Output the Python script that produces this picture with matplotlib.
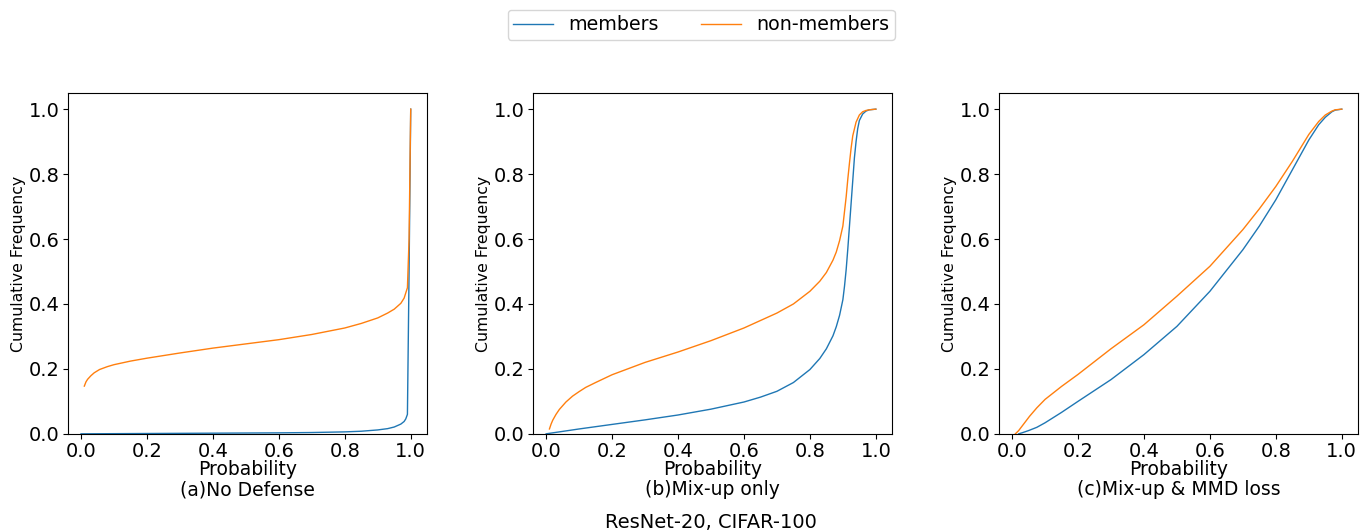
import matplotlib.pyplot as plt

# (a) No Defense
a_mem_x = [0.0, 0.2, 0.4, 0.6, 0.7, 0.8, 0.85, 0.9, 0.93, 0.95, 0.97, 0.98, 0.985, 0.99, 0.995, 1.0]
a_mem_y = [0.0, 0.001, 0.002, 0.003, 0.004, 0.006, 0.008, 0.012, 0.016, 0.021, 0.03, 0.038, 0.046, 0.06, 0.5, 1.0]
a_non_x = [0.01, 0.015, 0.02, 0.03, 0.04, 0.056, 0.08, 0.1, 0.15, 0.2, 0.3, 0.4, 0.5, 0.6, 0.7, 0.8,
           0.85, 0.9, 0.93, 0.95, 0.97, 0.98, 0.99, 0.995, 1.0]
a_non_y = [0.147, 0.16, 0.168, 0.179, 0.188, 0.198, 0.207, 0.213, 0.224, 0.233, 0.249, 0.264, 0.277,
           0.29, 0.306, 0.326, 0.34, 0.357, 0.372, 0.384, 0.402, 0.418, 0.45, 0.6, 1.0]

# (b) Mix-up only
b_mem_x = [0.0, 0.1, 0.2, 0.3, 0.4, 0.5, 0.6, 0.65, 0.7, 0.75, 0.8, 0.83, 0.85, 0.87, 0.88, 0.89, 0.9,
           0.905, 0.91, 0.915, 0.92, 0.925, 0.93, 0.935, 0.94, 0.945, 0.95, 0.96, 0.97, 0.98, 1.0]
b_mem_y = [0.0, 0.015, 0.029, 0.043, 0.058, 0.076, 0.098, 0.113, 0.131, 0.158, 0.198, 0.232, 0.262,
           0.302, 0.33, 0.365, 0.413, 0.455, 0.506, 0.57, 0.64, 0.71, 0.78, 0.85, 0.9, 0.94, 0.965,
           0.985, 0.994, 0.998, 1.0]
b_non_x = [0.01, 0.015, 0.02, 0.03, 0.04, 0.06, 0.08, 0.1, 0.12, 0.15, 0.2, 0.3, 0.4, 0.5, 0.6, 0.7,
           0.75, 0.8, 0.83, 0.85, 0.87, 0.88, 0.89, 0.9, 0.905, 0.91, 0.915, 0.92, 0.925, 0.93, 0.94,
           0.95, 0.96, 0.97, 0.98, 1.0]
b_non_y = [0.015, 0.03, 0.042, 0.06, 0.075, 0.098, 0.116, 0.13, 0.143, 0.158, 0.182, 0.22, 0.252, 0.287,
           0.326, 0.372, 0.4, 0.439, 0.47, 0.497, 0.535, 0.56, 0.595, 0.64, 0.685, 0.73, 0.785, 0.834,
           0.88, 0.918, 0.96, 0.982, 0.992, 0.996, 0.998, 1.0]

# (c) Mix-up & MMD loss
c_mem_x = [0.02, 0.03, 0.05, 0.075, 0.1, 0.15, 0.2, 0.3, 0.4, 0.5, 0.6, 0.7, 0.75, 0.8, 0.85, 0.9,
           0.93, 0.95, 0.97, 0.98, 1.0]
c_mem_y = [0.0, 0.003, 0.01, 0.02, 0.034, 0.066, 0.10, 0.167, 0.244, 0.331, 0.439, 0.567, 0.64, 0.721,
           0.813, 0.905, 0.952, 0.975, 0.992, 0.997, 1.0]
c_non_x = [0.01, 0.02, 0.035, 0.053, 0.075, 0.1, 0.15, 0.2, 0.3, 0.4, 0.5, 0.6, 0.7, 0.75, 0.8, 0.85,
           0.9, 0.93, 0.95, 0.97, 0.98, 1.0]
c_non_y = [0.0, 0.01, 0.03, 0.054, 0.08, 0.106, 0.146, 0.183, 0.262, 0.336, 0.424, 0.516, 0.629, 0.693,
           0.762, 0.839, 0.922, 0.962, 0.982, 0.994, 0.998, 1.0]

captions = ['(a)No Defense', '(b)Mix-up only', '(c)Mix-up & MMD loss']
panels = [(a_mem_x, a_mem_y, a_non_x, a_non_y),
          (b_mem_x, b_mem_y, b_non_x, b_non_y),
          (c_mem_x, c_mem_y, c_non_x, c_non_y)]

fig = plt.figure(figsize=(13.6, 5.31), dpi=100)
lefts = [0.05, 0.392, 0.7346]
for i, (mx, my, nx, ny) in enumerate(panels):
    ax = fig.add_axes([lefts[i], 0.183, 0.264, 0.642])
    l1, = ax.plot(mx, my, color='tab:blue', lw=1, label='members')
    l2, = ax.plot(nx, ny, color='tab:orange', lw=1, label='non-members')
    ax.set_xlim(-0.0395, 1.0495)
    ax.set_ylim(0, 1.05)
    ax.set_xticks([0.0, 0.2, 0.4, 0.6, 0.8, 1.0])
    ax.set_yticks([0.0, 0.2, 0.4, 0.6, 0.8, 1.0])
    ax.tick_params(labelsize=14, pad=2.5)
    ax.set_xlabel('Probability\n' + captions[i], fontsize=13.5, labelpad=-1, linespacing=1.1)
    ax.set_ylabel('Cumulative Frequency', fontsize=11.3, labelpad=2)

fig.legend([l1, l2], ['members', 'non-members'], loc='upper center', ncol=2,
           bbox_to_anchor=(0.5155, 1.0), fontsize=13.7, handlelength=2.1,
           columnspacing=2.2, handletextpad=0.8, borderpad=0.3)
fig.text(0.523, 0.006, 'ResNet-20, CIFAR-100', ha='center', fontsize=14)

fig.savefig('out.png', dpi=100)
